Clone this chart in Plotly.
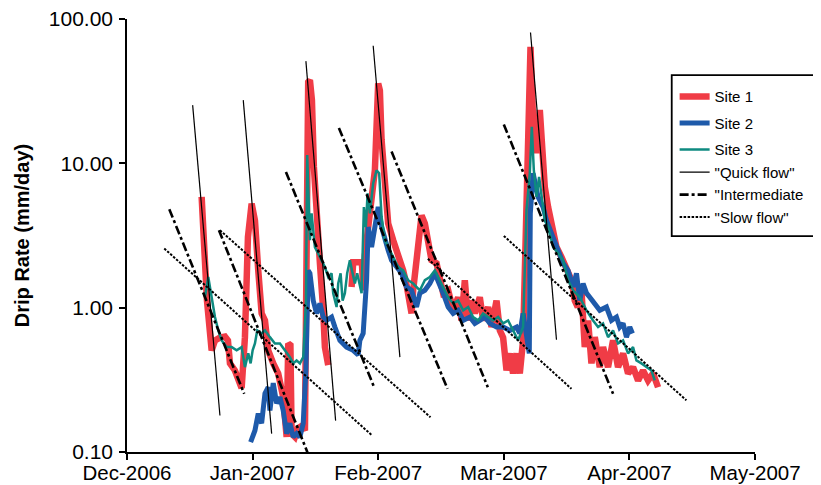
import plotly.graph_objects as go

# x values: days since 1 Dec 2006 (axis ticks every 30 days, as in the source chart)
tick_days = [0, 30, 60, 90, 120, 150]
tick_labels = ["Dec-2006", "Jan-2007", "Feb-2007", "Mar-2007", "Apr-2007", "May-2007"]
y_tick_vals = [0.1, 1, 10, 100]
y_tick_labels = ["0.10", "1.00", "10.00", "100.00"]

site1_day = [17.83, 18.14, 19.10, 20.22, 21.01, 22.20, 23.40, 24.11, 24.59, 25.78, 26.50, 27.38,
             28.17, 28.89, 29.77, 30.56, 31.35, 32.16, 32.95, 33.73, 34.93, 36.12, 37.31, 37.72,
             38.13, 38.51, 39.03, 39.32, 40.11, 40.82, 41.78, 42.50, 42.90, 43.28, 43.69, 44.17,
             44.64, 45.29, 46.08, 46.86, 47.27, 48.06, None,
             53.64, 54.03, 56.10, 56.46, 56.82, 57.61, 58.42, 59.21, 60.00, 60.40, 60.81, 61.59,
             62.38, 63.58, 64.77, 65.96, 66.78, 67.97, 68.35, 69.54, 70.36, 71.14, 71.93, 72.74,
             73.94, 74.72, 75.51, 76.71, 77.90, 79.09, 79.91, 80.69, 81.48, 82.29, 83.08, 84.27,
             85.06, 86.26, 87.07, 88.26, 89.05, 89.84, 90.65, 91.44, 92.22, 93.04, 93.82, 94.61,
             95.42, 95.80, 96.38, 97.00, 97.81, 98.60, 99.39, 99.79, 100.58, 101.39, 102.58, 103.78,
             104.97, 106.17, 106.95, 107.67, 108.55, 109.34, 110.13, 110.94, 111.73, 112.92, 113.71,
             114.90, 116.10, 117.29, 118.49, 119.68, 120.87, 122.07, 123.26, 124.46, 125.65, 126.84]
site1_rate = [5.85, 3.44, 1.12, 0.506, 0.593, 0.62, 0.63, 0.593, 0.411, 0.367, 0.32, 0.277,
              0.625, 3.09, 5.26, 4.03, 1.81, 0.913, 0.816, 0.506, 0.411, 0.350, 0.240, 0.174,
              0.127, 0.565, 0.55, 0.134, 0.127, 0.146, 0.152, 0.141, 12.3, 36.6, 37.7, 27.4,
              9.44, 4.03, 2.03, 0.958, 0.533, 0.40, None,
              1.39, 2.06, 2.06, 1.32, 2.3, 3.44, 4.96, 8.96, 35.8, 32.0, 14.5, 6.51,
              3.84, 2.93, 2.38, 1.81, 1.43, 0.913, 1.32, 2.63, 4.36, 3.84, 2.63, 2.13,
              2.03, 1.55, 1.26, 1.32, 0.958, 1.18, 0.816, 1.55, 0.816, 1.12, 0.913, 1.18,
              0.816, 1.01, 0.734, 1.12, 0.696, 0.62, 0.367, 0.482, 0.35, 0.482, 0.35, 0.593,
              4.73, 19.9, 64.2, 19.9, 11.75, 23.4, 11.75, 6.86, 4.98, 3.62, 2.63, 2.24,
              1.91, 1.55, 1.12, 1.01, 1.32, 0.533, 0.816, 0.411, 0.625, 0.387, 0.533,
              0.387, 0.593, 0.387, 0.482, 0.35, 0.387, 0.313, 0.367, 0.313, 0.35, 0.281]

site2_day = [29.53, 30.56, 31.35, 32.16, 32.95, 33.73, 34.14, 34.93, 35.74, 36.53, 37.31, 38.13,
             38.91, 39.70, 40.51, 41.30, 42.09, 42.73, 43.28, 43.69, 44.48, 45.29, 46.08, 46.86,
             47.68, 48.87, 49.66, 50.85, 52.45, 54.03, 55.22, 55.62, 56.41, 57.23, 57.61, 58.42,
             59.21, 60.00, 60.81, 61.59, 62.38, 63.19, 64.39, 65.58, 66.78, 67.97, 69.16, 69.95,
             71.14, 72.34, 73.53, 74.32, 75.51, 76.71, 77.90, 79.09, 80.29, 81.89, 83.08, 84.27,
             85.47, 86.66, 88.26, 89.84, 91.44, 93.04, 93.82, 94.61, 96.09, 96.33, 97.00, 98.19,
             99.39, 100.2, 101.39, 102.58, 104.16, 105.36, 106.55, 107.36, 108.15, 108.94, 109.75,
             110.54, 111.73, 112.92, 114.52, 115.72, 116.91, 117.70, 118.49, 119.30, 120.09, 120.73]
site2_rate = [0.117, 0.141, 0.185, 0.158, 0.254, 0.281, 0.194, 0.30, 0.217, 0.240, 0.194, 0.134,
              0.158, 0.127, 0.134, 0.127, 0.158, 0.367, 1.81, 1.73, 1.12, 0.913, 1.07, 0.861,
              0.816, 0.861, 0.734, 0.593, 0.533, 0.506, 0.47, 0.593, 0.663, 1.55, 3.62, 2.63,
              3.62, 4.98, 3.62, 2.93, 2.50, 2.13, 1.91, 1.73, 1.39, 1.32, 1.01, 1.26,
              1.32, 1.47, 1.73, 1.55, 1.26, 1.01, 0.913, 0.958, 0.816, 0.861, 0.778, 0.816,
              0.861, 0.778, 0.734, 0.734, 0.696, 0.734, 0.663, 0.913, 0.482, 4.51, 8.54, 5.85,
              4.98, 4.03, 3.27, 2.63, 2.03, 1.81, 1.39, 1.73, 1.12, 1.47, 1.26,
              1.18, 1.07, 0.958, 1.01, 0.816, 0.861, 0.734, 0.778, 0.625, 0.734, 0.663]

site3_day = [18.62, 19.41, 20.22, 21.01, 21.80, 22.61, 23.80, 25.00, 26.19, 27.38, 28.17, 28.96,
             29.53, 30.01, 30.56, 31.11, 32.16, 32.95, 34.14, 35.33, 36.53, 37.72, 38.91, 39.70,
             40.51, 41.30, 42.09, 42.73, 43.04, 43.69, 44.09, 44.88, 45.67, 46.48, 47.27, 48.06,
             48.87, 49.25, 50.06, 50.45, 51.02, 51.50, 52.04, 52.59, 53.24, 53.88, 54.43, 54.98,
             55.62, 56.03, 56.58, 57.06, 57.46, 58.01, 58.80, 59.61, 60.23, 60.81, 61.59, 62.38,
             63.58, 64.77, 65.96, 67.16, 68.35, 69.95, 71.14, 72.34, 73.53, 74.32, 75.51, 76.71,
             77.90, 79.09, 80.29, 81.48, 82.67, 83.87, 85.06, 86.26, 87.45, 88.64, 89.84, 91.03,
             92.22, 93.42, 94.61, 95.42, 96.21, 96.69, 97.17, 97.81, 98.43, 99.00, 99.79, 100.58,
             101.77, 102.97, 104.16, 105.36, 106.55, 108.15, 109.75, 111.32, 112.52, 113.71, 114.90,
             116.10, 117.29, 118.49, 119.68, 120.87, 121.68, 122.88, 124.07, 125.27, 126.05]
site3_rate = [1.18, 1.63, 1.18, 0.861, 0.696, 0.593, 0.533, 0.533, 0.506, 0.533, 0.387, 0.482,
              0.411, 0.506, 0.565, 0.696, 0.663, 0.696, 0.625, 0.565, 0.565, 0.506, 0.454, 0.411,
              0.431, 0.411, 0.454, 1.07, 11.4, 2.93, 4.51, 2.63, 2.38, 2.13, 1.91, 1.63,
              1.73, 1.26, 1.01, 1.47, 1.73, 1.12, 1.26, 1.73, 2.13, 1.73, 1.47, 1.73,
              1.39, 1.26, 4.98, 3.62, 6.20, 4.51, 7.28, 8.96, 8.54, 4.25, 2.93, 2.63,
              2.24, 1.91, 1.81, 1.55, 1.47, 1.32, 1.55, 1.63, 1.81, 1.63, 1.39, 1.18,
              1.07, 1.12, 0.958, 1.01, 0.861, 0.816, 0.913, 0.861, 0.816, 0.861, 0.778, 0.816,
              0.696, 0.593, 0.734, 4.73, 8.54, 17.9, 8.96, 5.85, 8.05, 5.85, 4.03, 3.62,
              2.63, 2.38, 2.13, 1.55, 1.32, 1.18, 0.958, 0.816, 0.734, 0.778, 0.625,
              0.696, 0.565, 0.593, 0.482, 0.533, 0.431, 0.411, 0.387, 0.367, 0.313]

# recession fit lines: start / end (day, rate)
quick_start_day = [15.68, 27.77, 42.73, 58.80, 96.38]
quick_start_rate = [25.3, 27.4, 51.1, 65.2, 80.7]
quick_end_day = [22.20, 34.55, 49.83, 65.18, 102.58]
quick_end_rate = [0.179, 0.134, 0.165, 0.454, 0.60]

inter_start_day = [10.10, 21.96, 37.96, 50.61, 63.19, 90.00]
inter_start_rate = [4.81, 3.44, 8.72, 17.6, 12.07, 18.6]
inter_end_day = [28.00, 43.69, 59.04, 76.56, 86.18, 116.10]
inter_end_rate = [0.253, 0.090, 0.281, 0.274, 0.281, 0.253]

slow_start_day = [8.90, 22.20, 71.86, 90.00]
slow_start_rate = [2.57, 3.44, 2.18, 3.14]
slow_end_day = [58.56, 72.50, 106.17, 133.62]
slow_end_rate = [0.130, 0.174, 0.274, 0.228]

assert len(site1_day) == len(site1_rate)
assert len(site2_day) == len(site2_rate)
assert len(site3_day) == len(site3_rate)


def segments(x0, y0, x1, y1):
    xs, ys = [], []
    for a, b, c, d in zip(x0, y0, x1, y1):
        xs += [a, c, None]
        ys += [b, d, None]
    return xs, ys


FONT = "Liberation Sans, Arial, Helvetica, sans-serif"

fig = go.Figure()
fig.add_trace(go.Scatter(x=site1_day, y=site1_rate, mode="lines", name="Site 1",
                         legendgroup="a", line=dict(color="#F03C46", width=6.5)))
fig.add_trace(go.Scatter(x=site2_day, y=site2_rate, mode="lines", name="Site 2",
                         legendgroup="b", line=dict(color="#1E5AAA", width=5)))
fig.add_trace(go.Scatter(x=site3_day, y=site3_rate, mode="lines", name="Site 3",
                         legendgroup="c", line=dict(color="#0E8A80", width=2.5)))

qx, qy = segments(quick_start_day, quick_start_rate, quick_end_day, quick_end_rate)
fig.add_trace(go.Scatter(x=qx, y=qy, mode="lines", name='"Quick flow"', legendgroup="c",
                         line=dict(color="black", width=1.2)))
ix, iy = segments(inter_start_day, inter_start_rate, inter_end_day, inter_end_rate)
fig.add_trace(go.Scatter(x=ix, y=iy, mode="lines", name='"Intermediate', legendgroup="c",
                         line=dict(color="black", width=2.6, dash="9px,3px,3px,3px")))
sx, sy = segments(slow_start_day, slow_start_rate, slow_end_day, slow_end_rate)
fig.add_trace(go.Scatter(x=sx, y=sy, mode="lines", name='"Slow flow"', legendgroup="c",
                         line=dict(color="black", width=2, dash="2.5px,1.5px")))

# the page body has an 8px margin, so the figure is 8px smaller than the window
fig.update_layout(
    width=813, height=477,
    margin=dict(l=119, r=66, t=11, b=33, autoexpand=False),
    paper_bgcolor="white", plot_bgcolor="white",
    font=dict(family=FONT, color="black", size=20),
    showlegend=True,
    legend=dict(x=0.872, y=0.8583, xanchor="left", yanchor="top",
                bgcolor="rgba(0,0,0,0)", borderwidth=0,
                font=dict(family=FONT, size=15, color="black"),
                itemwidth=30, tracegroupgap=4, traceorder="grouped"),
    shapes=[dict(type="rect", xref="paper", yref="paper",
                 x0=0.8674, x1=1.1014, y0=0.4985, y1=0.8706,
                 line=dict(color="black", width=1.8), fillcolor="white", layer="above")],
)
fig.update_xaxes(range=[0, 150], tickvals=tick_days, ticktext=tick_labels, automargin=False,
                 ticklabeloverflow="allow", ticklabelstandoff=-4,
                 showline=True, linecolor="black", linewidth=1.5, mirror=False,
                 ticks="outside", ticklen=6, tickwidth=1.5, tickcolor="black",
                 showgrid=False, zeroline=False, tickfont=dict(size=20.5))
fig.update_yaxes(type="log", range=[-1, 2], tickvals=y_tick_vals, ticktext=y_tick_labels,
                 automargin=False, ticklabelstandoff=2, ticklabeloverflow="allow",
                 showline=True, linecolor="black", linewidth=1.5, mirror=False,
                 ticks="outside", ticklen=6, tickwidth=1.5, tickcolor="black",
                 showgrid=False, zeroline=False, tickfont=dict(size=21),
                 title=dict(text="<b>Drip Rate (mm/day)</b>", font=dict(size=20), standoff=14))

fig.write_html("out.html")
